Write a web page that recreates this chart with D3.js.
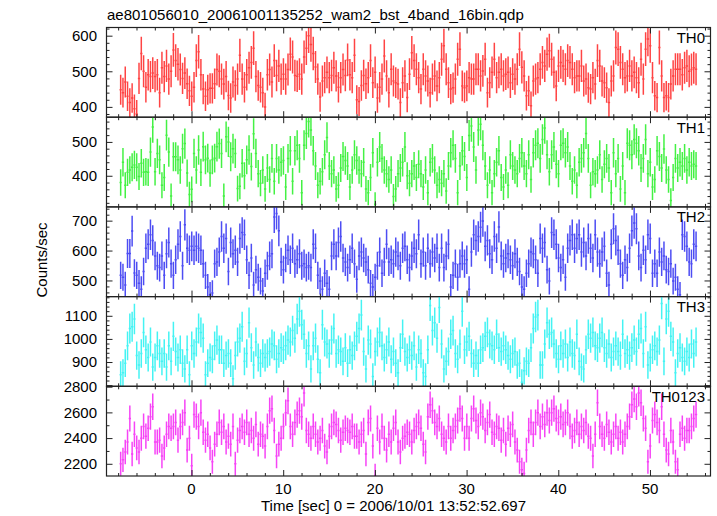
<!DOCTYPE html>
<html><head><meta charset="utf-8">
<script src="https://cdn.jsdelivr.net/npm/d3@7"></script>
<style>
html,body{margin:0;padding:0;background:#fff}
svg{display:block}
text{font-family:"Liberation Sans",Arial,Helvetica,sans-serif;font-size:15px;fill:#000}
</style>
</head><body>
<svg id="chart" width="717" height="516"></svg>
<script>
const titleText = "ae801056010_20061001135252_wam2_bst_4band_16bin.qdp";
const xLabelText = "Time [sec] 0 = 2006/10/01 13:52:52.697";
const yLabelText = "Counts/sec";
const binStart = -7.85;      // left edge of first bin [sec]
const binWidth = 0.25;       // bin width [sec]
const panelNames = ["TH0", "TH1", "TH2", "TH3", "TH0123"];
const panelColors = ["#ff3030", "#30f030", "#3a3af2", "#30f2f2", "#f530f5"];
const xTickValues = [0, 10, 20, 30, 40, 50];
const xMinorStep = 2;
const yTickValues = [[400, 500, 600], [400, 500], [500, 600, 700], [900, 1000, 1100], [2200, 2400, 2600, 2800]];
const yMinorStep = [20, 20, 20, 20, 100];
const yMajorStep = [100, 100, 100, 100, 200];
const yDomains = [[371, 623], [308, 573], [446, 746], [795, 1183], [2105, 2803]];
const xDomain = [-9.27, 56.6];

const th0 = [448,440,470,430, 412,425,395,380, 480,550,500,455, 490,485,495,485, 490,440,510,485, 515,478,500,560, 530,520,505,480, 495,465,445,430, 455,530,555,490, 450,430,448,452, 452,465,505,500, 478,464,485,432, 425,470,460,478, 545,478,455,490, 510,525,565,485, 460,455,440,400, 490,505,470,530, 488,515,478,492, 478,505,548,540, 488,486,492,478, 540,565,600,575, 550,512,478,428, 473,482,497,482, 488,510,487,455, 482,505,488,532, 490,482,545,420, 415,460,488,465, 482,530,468,497, 425,455,478,543, 487,440,506,473, 468,464,412,468, 487,426,492,552,
530,506,482,450, 506,487,473,440, 478,487,459,482, 534,572,506,468, 450,454,478,534, 562,459,454,459, 482,478,478,506, 506,487,501,534, 440,468,497,534, 482,497,506,487, 492,497,468,492, 478,506,562,511, 487,431,445,403, 473,478,482,506, 525,515,548,558, 534,497,459,515, 525,515,506,530, 525,506,482,487, 487,515,473,478, 454,450,482,464, 530,515,473,468, 454,412,473,487, 567,562,525,506, 482,487,515,487, 497,482,468,534, 478,562,591,572, 482,431,426,567, 487,426,431,426, 464,487,506,506, 506,490,510,515, 500,505,510,506];

const th1 = [380,440,372,410, 417,425,432,425, 398,437,410,412, 410,470,544,412, 466,447,372,395, 520,470,340,456, 456,447,417,480, 495,408,345,360, 466,417,476,410, 486,447,452,408, 447,452,486,495, 466,340,515,500, 456,480,466,362, 369,437,400,447, 476,427,524,466,
406,378,417,361, 423,389,451,384, 451,417,440,445, 367,451,474,384, 474,490,451,350, 490,525,560,535, 474,429,372,384, 412,462,513,429, 406,417,361,372, 423,457,445,429, 367,417,462,445, 417,406,440,361, 350,395,468,316, 440,485,451,417, 406,389,417,339, 361,406,423,440, 485,400,378,406, 429,395,434,406, 367,417,350,440, 451,417,372,389, 378,406,355,429, 468,490,451,350, 429,474,457,395, 519,547,485,417, 535,552,490,429, 372,417,350,406, 440,474,395,367, 417,372,462,429, 417,406,451,468, 429,406,462,389, 468,490,496,451, 507,541,462,412, 462,485,434,406, 490,496,468,485, 429,384,417,372, 440,451,468,525, 451,372,412,406, 417,462,389,434, 451,423,350,468, 406,451,361,429, 350,496,490,462, 507,496,474,423, 451,507,406,440, 367,389,474,457, 423,479,417,389, 327,395,451,423, 440,429,451,417, 440,429,434,429];

const th2 = [517,511,485,590, 590,665,525,517, 491,471,530,608, 621,653,634,582, 549,543,582,517, 589,627,556,517, 569,621,647,549, 686,608,601,614, 601,614,608,601, 556,517,478,452, 458,556,562,595, 647,608,640,530, 627,589,601,562, 640,660,653,569, 517,575,485,536, 511,498,465,524, 549,582,589,712, 724,666,562,536, 575,601,569,608, 556,569,589,549, 556,543,549,543, 621,608,517,498, 471,524,491,471, 582,621,582,627, 647,575,562,543, 569,608,556,504, 582,595,575,562, 536,491,478,511, 549,595,524,562, 621,562,569,556, 595,582,549,608, 614,569,543,582, 608,589,653,556, 595,549,608,556, 595,575,608,543, 608,543,582,621, 478,517,556,511, 556,582,556,569, 471,595,653,634, 647,678,699,614, 634,589,569,647, 608,679,582,556, 575,589,569,549, 589,562,530,478, 471,524,556,595, 589,569,524,640, 608,627,536,498, 660,653,621,575, 543,569,511,608, 634,653,608,640, 653,595,627,582, 640,608,575,653, 595,556,595,614, 524,485,621,673, 634,601,556,517, 569,543,608,666, 692,673,582,543, 601,569,653,640, 524,556,524,595, 562,582,536,530, 556,498,511,471, 452,653,647,614, 562,556,621,614];

const th3 = [845,854,895,970, 1045,1053,1086,928, 887,937,1028,953, 920,987,878,920, 970,937,903,937, 878,970,903,1011, 945,920,953,895, 870,953,845,970, 937,987,1045,1028, 1003,845,895,920, 912,970,995,953, 953,895,928,937, 895,828,928,987, 1003,1053,903,937, 1070,962,887,987, 920,895,937,920, 937,945,978,970, 912,937,962,953, 970,995,987,1036, 1003,1086,1120,1061, 1020,937,970,870, 970,1003,912,854, 1061,987,978,937, 995,1045,937,953, 945,903,962,895, 953,928,970,1011, 1045,1103,945,870, 995,978,837,945, 987,1028,970,920, 953,987,912,945, 895,854,962,1020, 945,920,953,928, 970,878,953,937, 854,837,953,1145, 1036,1070,1003,1136, 978,870,903,945, 1020,1036,937,912, 978,1120,953,987, 1011,937,895,928, 895,953,962,1011, 1028,978,970,953, 1020,962,945,970, 953,928,912,937, 945,887,895,812, 862,903,895,962, 1045,1095,1103,887, 887,978,1070,1020, 1028,978,937,912, 970,937,978,920, 987,937,928,1020, 903,878,870,953, 1020,1003,1028,970, 962,1003,1028,962, 937,978,920,945, 970,945,928,1020, 937,953,928,962, 995,945,1020,1045, 937,1053,887,920, 953,970,945,995, 1153,903,1086,1120, 1011,987,854,937, 962,920,903,945, 920,978,937,987];

const th0123 = [2200,2231,2292,2369, 2552,2277,2430,2323, 2292,2399,2491,2415, 2476,2567,2644,2369, 2369,2384,2261,2323, 2430,2491,2476,2491, 2522,2384,2491,2522, 2598,2307,2399,2185, 2583,2567,2491,2598, 2445,2384,2430,2323, 2216,2353,2430,2522, 2445,2491,2369,2415, 2353,2491,2200,2384, 2460,2491,2445,2522, 2430,2460,2399,2506, 2353,2430,2415,2338, 2491,2613,2629,2460, 2261,2353,2399,2491, 2598,2690,2491,2430, 2522,2583,2613,2567, 2751,2460,2430,2399, 2491,2430,2369,2399, 2460,2338,2292,2415, 2491,2522,2506,2460, 2384,2445,2476,2460, 2445,2491,2415,2415, 2369,2430,2460,2277, 2522,2552,2338,2108, 2476,2369,2491,2399, 2307,2430,2369,2476, 2522,2369,2292,2399, 2415,2445,2430,2369, 2460,2491,2522,2476, 2353,2292,2567,2660, 2613,2522,2491,2552, 2430,2399,2369,2491, 2399,2460,2491,2537, 2629,2552,2399,2491, 2399,2552,2629,2537, 2491,2598,2567,2460, 2522,2583,2445,2430, 2491,2476,2384,2460, 2353,2476,2430,2506, 2369,2307,2216,2154, 2124,2307,2460,2522, 2430,2522,2598,2491, 2567,2506,2598,2537, 2598,2629,2552,2522, 2567,2506,2522,2598, 2491,2415,2460,2522, 2430,2491,2460,2522, 2415,2399,2261,2430, 2675,2491,2430,2399, 2506,2445,2369,2430, 2491,2399,2445,2369, 2430,2491,2567,2660, 2705,2644,2751,2675, 2552,2476,2216,2338, 2537,2583,2522,2460, 2644,2430,2307,2277, 2460,2369,2216,2154, 2430,2476,2399,2460, 2460,2491,2552,2583];

const seriesValues = [th0, th1, th2, th3, th0123];

// ---------- layout ----------
const plotLeft = 106.5, plotRight = 710.5;
const panelTop = 27.5, panelBottom = 476;
const nPanels = seriesValues.length;
const panelH = (panelBottom - panelTop) / nPanels;

const svg = d3.select("#chart");
const x = d3.scaleLinear().domain(xDomain).range([plotLeft, plotRight]);
const xMinorTicks = d3.range(-8, 57, xMinorStep).filter(v => xTickValues.indexOf(v) < 0);
const defs = svg.append("defs");

seriesValues.forEach((vals, p) => {
  const top = panelTop + p * panelH;
  const bot = top + panelH;
  const y = d3.scaleLinear().domain(yDomains[p]).range([bot, top]);
  const g = svg.append("g");

  defs.append("clipPath").attr("id", "clip" + p)
    .append("rect").attr("x", plotLeft).attr("y", top).attr("width", plotRight - plotLeft).attr("height", panelH);

  // horizontal bar = bin width, vertical bar = Poisson error of the counts in the bin
  let d = "";
  vals.forEach((v, k) => {
    const t0 = binStart + k * binWidth, t1 = t0 + binWidth, tc = t0 + binWidth / 2;
    const err = Math.sqrt(v * binWidth) / binWidth;
    d += "M" + x(t0) + "," + y(v) + "H" + x(t1);
    d += "M" + x(tc) + "," + y(v + err) + "V" + y(v - err);
  });
  g.append("path").attr("d", d)
    .attr("fill", "none").attr("stroke", panelColors[p]).attr("stroke-width", 1.5)
    .attr("stroke-opacity", 0.9)
    .attr("clip-path", "url(#clip" + p + ")");

  const ms = yMajorStep[p];
  const yMajorAll = d3.range(Math.ceil(yDomains[p][0] / ms) * ms, yDomains[p][1] + 0.001, ms);
  const yMinor = d3.range(Math.ceil(yDomains[p][0] / yMinorStep[p]) * yMinorStep[p], yDomains[p][1] + 0.001, yMinorStep[p])
    .filter(v => v % ms !== 0);

  const styleAxis = sel => {
    sel.select(".domain").remove();
    sel.selectAll("line").attr("stroke", "#222").attr("stroke-width", 1);
    sel.selectAll("text").remove();
  };
  g.append("g").attr("transform", `translate(0,${bot})`).call(d3.axisBottom(x).tickValues(xTickValues).tickSize(-6)).call(styleAxis);
  g.append("g").attr("transform", `translate(0,${bot})`).call(d3.axisBottom(x).tickValues(xMinorTicks).tickSize(-3)).call(styleAxis);
  g.append("g").attr("transform", `translate(0,${top})`).call(d3.axisTop(x).tickValues(xTickValues).tickSize(-6)).call(styleAxis);
  g.append("g").attr("transform", `translate(0,${top})`).call(d3.axisTop(x).tickValues(xMinorTicks).tickSize(-3)).call(styleAxis);
  g.append("g").attr("transform", `translate(${plotLeft},0)`).call(d3.axisLeft(y).tickValues(yMajorAll).tickSize(-6)).call(styleAxis);
  g.append("g").attr("transform", `translate(${plotLeft},0)`).call(d3.axisLeft(y).tickValues(yMinor).tickSize(-3)).call(styleAxis);
  g.append("g").attr("transform", `translate(${plotRight},0)`).call(d3.axisRight(y).tickValues(yMajorAll).tickSize(-6)).call(styleAxis);
  g.append("g").attr("transform", `translate(${plotRight},0)`).call(d3.axisRight(y).tickValues(yMinor).tickSize(-3)).call(styleAxis);

  g.append("rect").attr("x", plotLeft).attr("y", top).attr("width", plotRight - plotLeft).attr("height", panelH)
    .attr("fill", "none").attr("stroke", "#222").attr("stroke-width", 1.2);

  g.selectAll("text.ylab").data(yTickValues[p]).enter().append("text")
    .attr("class", "ylab").attr("x", 97).attr("y", v => y(v) + 5.3)
    .attr("text-anchor", "end").text(v => v);

  g.append("text").attr("x", 705).attr("y", top + 15.5).attr("text-anchor", "end").text(panelNames[p]);

  if (p === nPanels - 1) {
    g.selectAll("text.xlab").data(xTickValues).enter().append("text")
      .attr("class", "xlab").attr("x", v => x(v)).attr("y", 494)
      .attr("text-anchor", "middle").text(v => v);
  }
});

svg.append("text").attr("x", 107).attr("y", 20).text(titleText);
svg.append("text").attr("x", 261).attr("y", 511).text(xLabelText);
svg.append("text").attr("transform", "translate(47,260) rotate(-90)").attr("text-anchor", "middle").text(yLabelText);
</script>
</body></html>
